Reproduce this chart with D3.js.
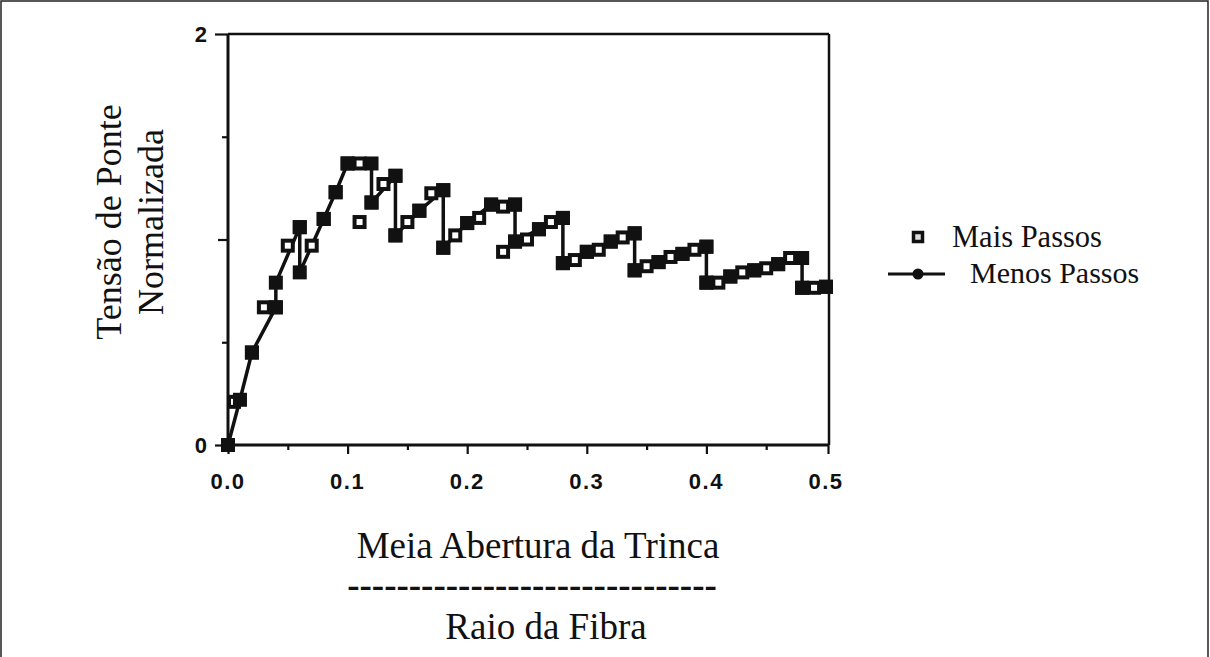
<!DOCTYPE html>
<html>
<head>
<meta charset="utf-8">
<script src="https://cdn.jsdelivr.net/npm/d3@7"></script>
<style>
  html, body { margin: 0; padding: 0; background: #fff; }
  svg { display: block; }
</style>
</head>
<body>
<svg id="chart" width="1210" height="657"></svg>
<script>
// Bridging stress vs. half crack opening (normalised), two step resolutions.
const xTickValues = [0, 0.1, 0.2, 0.3, 0.4, 0.5];
const xTickLabels = ["0.0", "0.1", "0.2", "0.3", "0.4", "0.5"];
const yTickValues = [0, 2];
const yTickLabels = ["0", "2"];

// "Mais Passos" – open square markers only
const maisX = [0.00, 0.005, 0.02, 0.03, 0.04, 0.05, 0.06, 0.07, 0.08, 0.09, 0.10, 0.11, 0.11,
  0.12, 0.13, 0.14, 0.14, 0.15, 0.16, 0.17, 0.18, 0.18, 0.19, 0.20, 0.21, 0.22, 0.23, 0.23,
  0.24, 0.24, 0.25, 0.26, 0.27, 0.28, 0.28, 0.29, 0.30, 0.31, 0.32, 0.33, 0.34, 0.34, 0.35,
  0.36, 0.37, 0.38, 0.39, 0.40, 0.40, 0.41, 0.42, 0.43, 0.44, 0.45, 0.46, 0.47, 0.48, 0.48,
  0.49, 0.50];
const maisY = [0.00, 0.21, 0.45, 0.67, 0.67, 0.97, 1.06, 0.97, 1.10, 1.23, 1.37, 1.37, 1.085,
  1.18, 1.27, 1.31, 1.02, 1.085, 1.14, 1.225, 1.24, 0.96, 1.02, 1.08, 1.105, 1.17, 1.16, 0.94,
  1.17, 0.99, 1.00, 1.05, 1.085, 1.105, 0.885, 0.90, 0.94, 0.95, 0.99, 1.01, 1.03, 0.85, 0.87,
  0.89, 0.915, 0.93, 0.95, 0.965, 0.79, 0.79, 0.82, 0.84, 0.85, 0.86, 0.88, 0.91, 0.91, 0.765,
  0.765, 0.77];

// "Menos Passos" – connected line with filled markers
const menosX = [0.00, 0.01, 0.02, 0.04, 0.04, 0.06, 0.06, 0.08, 0.09, 0.10, 0.12, 0.12, 0.14,
  0.14, 0.16, 0.18, 0.18, 0.20, 0.22, 0.24, 0.24, 0.26, 0.28, 0.28, 0.30, 0.32, 0.34, 0.34,
  0.36, 0.38, 0.40, 0.40, 0.42, 0.44, 0.46, 0.48, 0.48, 0.50];
const menosY = [0.00, 0.22, 0.45, 0.67, 0.79, 1.06, 0.84, 1.10, 1.23, 1.37, 1.37, 1.18, 1.31,
  1.02, 1.14, 1.24, 0.96, 1.08, 1.17, 1.17, 0.99, 1.05, 1.105, 0.885, 0.94, 0.99, 1.03, 0.85,
  0.89, 0.93, 0.965, 0.79, 0.82, 0.85, 0.88, 0.91, 0.765, 0.77];

const legendLabels = ["Mais Passos", "Menos Passos"];
const xTitle = "Meia Abertura da Trinca";
const xTitleBelow = "Raio da Fibra";
const yTitle = ["Tensão de Ponte", "Normalizada"];

const svg = d3.select("#chart");
const ink = "#111";
const serif = "'Liberation Serif', 'Times New Roman', serif";
const sans = "'Liberation Sans', Arial, Helvetica, sans-serif";

// outer page border
svg.append("rect").attr("x", 1).attr("y", 1).attr("width", 1207).attr("height", 660)
  .attr("fill", "none").attr("stroke", "#222").attr("stroke-width", 1.5);

const x = d3.scaleLinear().domain([0, 0.5]).range([228, 826]);
const y = d3.scaleLinear().domain([0, 2]).range([445, 34]);

// plot frame
const frame = svg.append("g").attr("stroke", ink).attr("fill", "none");
frame.append("line").attr("x1", x(0)).attr("x2", x(0.5) + 3).attr("y1", y(2)).attr("y2", y(2)).attr("stroke-width", 2.5);
frame.append("line").attr("x1", x(0.5) + 3).attr("x2", x(0.5) + 3).attr("y1", y(2)).attr("y2", y(0)).attr("stroke-width", 2.5);

// x axis: ticks every 0.05, long on tenths
const xAxis = d3.axisBottom(x)
  .tickValues(d3.range(0, 0.5001, 0.05))
  .tickSize(8)
  .tickFormat(() => "");
const gx = svg.append("g").attr("transform", `translate(0,${y(0)})`).call(xAxis);
gx.select(".domain").attr("stroke", ink).attr("stroke-width", 3).attr("d", `M${x(0)},0H${x(0.5) + 3}`);
gx.selectAll(".tick line").attr("stroke", ink).attr("stroke-width", 2.2)
  .attr("y2", (d, i) => i % 2 === 0 ? 9 : 5);
gx.selectAll(".tick").filter(d => d === 0.5).select("line").attr("transform", "translate(2,0)");

svg.append("g").selectAll("text").data(xTickValues).join("text")
  .attr("x", d => x(d)).attr("y", 489)
  .attr("text-anchor", "middle")
  .attr("font-family", sans).attr("font-weight", "bold").attr("font-size", 22)
  .attr("letter-spacing", 1.5)
  .attr("fill", ink)
  .text((d, i) => xTickLabels[i]);

// y axis: ticks at each 0.5, longer at 0, 1, 2
const yAxis = d3.axisLeft(y).tickValues(d3.range(0, 2.001, 0.5)).tickSize(13).tickFormat(() => "");
const gy = svg.append("g").attr("transform", `translate(${x(0)},0)`).call(yAxis);
gy.select(".domain").attr("stroke", ink).attr("stroke-width", 3).attr("d", `M0,${y(0)}V${y(2)}`);
gy.selectAll(".tick line").attr("stroke", ink).attr("stroke-width", 2.2)
  .attr("x2", d => (d === 0 || d === 2) ? -13 : (d === 1 ? -10 : -6));

svg.append("g").selectAll("text").data(yTickValues).join("text")
  .attr("x", 207).attr("y", d => y(d) + 8)
  .attr("text-anchor", "end")
  .attr("font-family", sans).attr("font-weight", "bold").attr("font-size", 22)
  .attr("fill", ink)
  .text((d, i) => yTickLabels[i]);

// Menos Passos line
const menos = menosX.map((v, i) => [v, menosY[i]]);
const mais = maisX.map((v, i) => [v, maisY[i]]);
const lineGen = d3.line().x(d => x(d[0])).y(d => y(d[1]));
svg.append("path").datum(menos).attr("d", lineGen)
  .attr("fill", "none").attr("stroke", ink).attr("stroke-width", 3.5).attr("stroke-linejoin", "round");

// Mais Passos open squares
const sq = 14, sw = 4;
svg.append("g").selectAll("rect").data(mais).join("rect")
  .attr("x", d => x(d[0]) - (sq - sw) / 2).attr("y", d => y(d[1]) - (sq - sw) / 2)
  .attr("width", sq - sw).attr("height", sq - sw)
  .attr("fill", "#fff").attr("stroke", ink).attr("stroke-width", sw);

// Menos Passos filled markers
svg.append("g").selectAll("rect").data(menos).join("rect")
  .attr("x", d => x(d[0]) - 7).attr("y", d => y(d[1]) - 7)
  .attr("width", 14).attr("height", 14)
  .attr("fill", ink);

// legend
const leg = svg.append("g");
leg.append("rect").attr("x", 918 - 4.5).attr("y", 237 - 4.5).attr("width", 9).attr("height", 9)
  .attr("fill", "#ddd").attr("stroke", ink).attr("stroke-width", 3.5);
leg.append("text").attr("x", 952).attr("y", 247).attr("font-family", serif).attr("font-size", 30.5)
  .attr("fill", ink).text(legendLabels[0]);
leg.append("line").attr("x1", 888).attr("x2", 945).attr("y1", 274).attr("y2", 274)
  .attr("stroke", ink).attr("stroke-width", 3);
leg.append("circle").attr("cx", 918).attr("cy", 274).attr("r", 5.5).attr("fill", ink);
leg.append("text").attr("x", 970).attr("y", 283).attr("font-family", serif).attr("font-size", 30)
  .attr("fill", ink).text(legendLabels[1]);

// axis titles
svg.append("text").attr("x", 538).attr("y", 558).attr("text-anchor", "middle")
  .attr("font-family", serif).attr("font-size", 37).attr("fill", ink).text(xTitle);
svg.append("text").attr("x", 532).attr("y", 597).attr("text-anchor", "middle")
  .attr("font-family", serif).attr("font-weight", "bold").attr("font-size", 37).attr("fill", ink)
  .text("-".repeat(30));
svg.append("text").attr("x", 546).attr("y", 639).attr("text-anchor", "middle")
  .attr("font-family", serif).attr("font-size", 37).attr("fill", ink).text(xTitleBelow);

svg.append("text").attr("transform", "translate(121,222) rotate(-90)").attr("text-anchor", "middle")
  .attr("font-family", serif).attr("font-size", 36).attr("fill", ink).text(yTitle[0]);
svg.append("text").attr("transform", "translate(163,222) rotate(-90)").attr("text-anchor", "middle")
  .attr("font-family", serif).attr("font-size", 36).attr("fill", ink).text(yTitle[1]);
</script>
</body>
</html>
